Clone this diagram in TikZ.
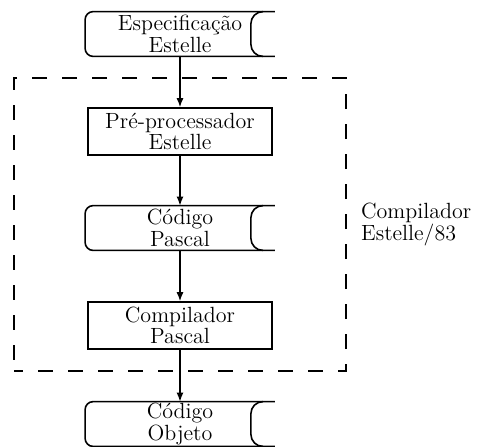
\documentclass[tikz,border=0pt]{standalone}
\usetikzlibrary{arrows.meta}
% outline of a stored-data symbol around a named node
\newcommand\storeoutline[1]{%
  \draw[storeline, rounded corners=4pt]
    (#1.north east) -- (#1.north west) -- (#1.south west) -- (#1.south east);
  \draw[storeline, rounded corners=6pt]
    ([xshift=-6pt]#1.north east) -- ([xshift=-12pt]#1.north east)
    -- ([xshift=-12pt]#1.south east) -- ([xshift=-6pt]#1.south east);}
\begin{document}
\begin{tikzpicture}[x=0.5pt,y=-0.5pt,
  every node/.style={font=\fontsize{11}{8}\selectfont, align=center, inner sep=0pt},
  procbox/.style={draw, line width=0.8pt, minimum width=92pt, minimum height=23.5pt},
  store/.style={minimum width=94.5pt, minimum height=22pt},
  storeline/.style={line width=0.8pt},
  dashbox/.style={draw, line width=0.7pt, dash pattern=on 7.5pt off 7.5pt, dash phase=3pt,
    minimum width=166pt, minimum height=146.5pt},
  flow/.style={line width=0.7pt, -{Latex[length=4.5pt,width=3.5pt]}}]
  \useasboundingbox (0,0) rectangle (480,446);

  % compiler boundary
  \node[dashbox] (comp) at (180,224.5) {};
  \node[anchor=west, align=left, font=\fontsize{11}{9}\selectfont] (lbl)
    at ([xshift=7pt]comp.east) {Compilador\\Estelle/83};

  % processing chain
  \node[store] (esp) at (180,34) {Especificação\\Estelle};
  \node[procbox] (pre) at (180,131.5) {Pré-processador\\Estelle};
  \node[store] (cpas) at (180,228) {Código\\Pascal};
  \node[procbox] (comppas) at (180,325.5) {Compilador\\Pascal};
  \node[store] (obj) at (180,424) {Código\\Objeto};

  \storeoutline{esp}
  \storeoutline{cpas}
  \storeoutline{obj}

  \draw[flow] (esp) -- (pre);
  \draw[flow] (pre) -- (cpas);
  \draw[flow] (cpas) -- (comppas);
  \draw[flow] (comppas) -- (obj);
\end{tikzpicture}
\end{document}
